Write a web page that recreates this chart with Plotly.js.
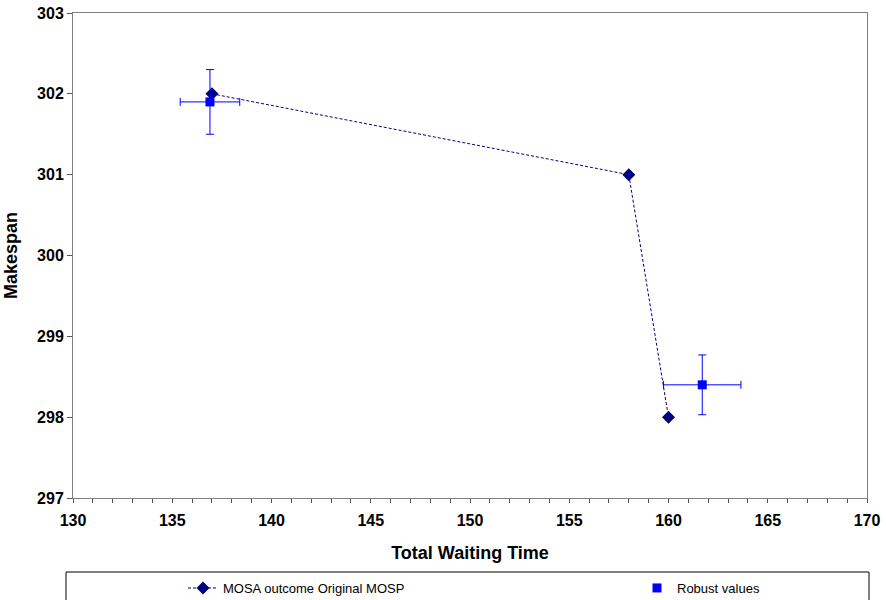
<!DOCTYPE html>
<html><head>
<meta charset="utf-8">
<script src="https://cdn.plot.ly/plotly-3.0.1.min.js"></script>
<style>body{margin:0;background:#fff}</style>
</head><body>
<div id="chart" style="width:886px;height:600px"></div>
<script>
const mosaX = [137, 158, 160];
const mosaY = [302, 301, 298];
const robustX = [136.9, 161.7];
const robustY = [301.9, 298.4];
const robustXErr = [1.5, 1.95];
const robustYErr = [0.4, 0.37];
const seriesNames = ['MOSA outcome Original MOSP', 'Robust values'];
const xTitle = 'Total Waiting Time';
const yTitle = 'Makespan';

const FONT = 'Arial, "Liberation Sans", sans-serif';

const traces = [
  {
    x: mosaX, y: mosaY, name: seriesNames[0], type: 'scatter', mode: 'lines+markers',
    line: {color: '#000080', width: 1, dash: '3px,2px'},
    marker: {symbol: 'diamond', size: 10, color: '#000080'},
    legend: 'legend'
  },
  {
    x: robustX, y: robustY, name: seriesNames[1], type: 'scatter', mode: 'markers',
    marker: {symbol: 'square', size: 9, color: '#0000FF'},
    error_x: {type: 'data', array: robustXErr, visible: true, color: '#0000FF', thickness: 1, width: 4},
    error_y: {type: 'data', array: robustYErr, visible: true, color: '#0000FF', thickness: 1, width: 4},
    legend: 'legend2'
  }
];

const W = 886, H = 600, ml = 73, mr = 19, mt = 13, mb = 102;
const pw = W - ml - mr, ph = H - mt - mb;
const px = v => (v - ml) / pw;
const py = v => (H - mb - v) / ph;

const legendBase = {
  orientation: 'h', xanchor: 'left', yanchor: 'top', y: py(573),
  font: {family: FONT, size: 13, color: '#000'},
  bgcolor: 'rgba(0,0,0,0)', borderwidth: 0
};

const layout = {
  width: W, height: H,
  margin: {l: ml, r: mr, t: mt, b: mb, autoexpand: false},
  paper_bgcolor: '#fff', plot_bgcolor: '#fff',
  showlegend: true,
  font: {family: FONT, color: '#000'},
  xaxis: {
    range: [130, 170], dtick: 5, tick0: 130,
    showgrid: false, zeroline: false,
    showline: true, linecolor: '#808080', linewidth: 1, mirror: true,
    ticks: 'outside', ticklen: 4, tickcolor: '#555', tickwidth: 1,
    ticklabelstandoff: 4,
    minor: {dtick: 1, ticks: 'outside', ticklen: 4, tickcolor: '#555', showgrid: false},
    tickfont: {family: FONT, size: 16, weight: 700, color: '#000'},
    title: {text: xTitle, font: {family: FONT, size: 18, weight: 700, color: '#000'}, standoff: 18}
  },
  xaxis2: {
    range: [130, 170], dtick: 1, overlaying: 'x', side: 'bottom', anchor: 'y',
    showgrid: false, zeroline: false, showline: false, showticklabels: false,
    ticks: 'inside', ticklen: 3, tickcolor: '#555', tickwidth: 1
  },
  yaxis: {
    range: [297, 303], dtick: 1,
    showgrid: false, zeroline: false,
    showline: true, linecolor: '#808080', linewidth: 1, mirror: true,
    ticks: 'outside', ticklen: 5, tickcolor: '#555', tickwidth: 1,
    tickfont: {family: FONT, size: 16, weight: 700, color: '#000'},
    title: {text: yTitle, font: {family: FONT, size: 18, weight: 700, color: '#000'}, standoff: 14}
  },
  legend: Object.assign({}, legendBase, {x: px(183)}),
  legend2: Object.assign({}, legendBase, {x: px(637)}),
  shapes: [
    {type: 'rect', xref: 'paper', yref: 'paper', x0: px(66), x1: px(869), y0: py(572), y1: py(640),
     line: {color: '#000', width: 1}, fillcolor: 'rgba(0,0,0,0)', layer: 'below'}
  ]
};

Plotly.newPlot('chart', traces, layout, {displayModeBar: false, staticPlot: true});
</script>
</body></html>
